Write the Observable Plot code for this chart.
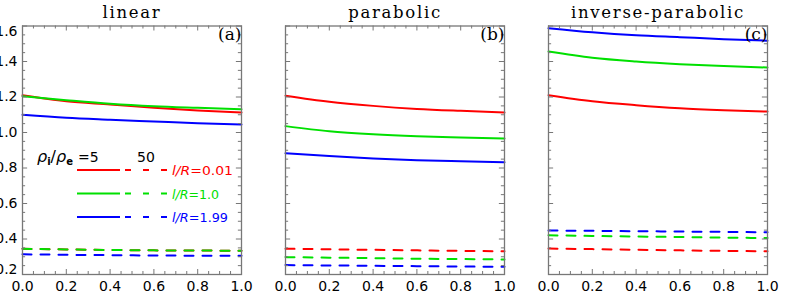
<!DOCTYPE html>
<html>
<head>
<meta charset="utf-8">
<script src="https://cdn.jsdelivr.net/npm/d3@7"></script>
<script src="https://cdn.jsdelivr.net/npm/@observablehq/plot@0.6"></script>
<style>
  html, body { margin: 0; padding: 0; background: #fff; }
  #chart { width: 789px; height: 299px; overflow: hidden; }
  #chart [aria-label="fx-axis tick label"] text { letter-spacing: 1.7px; }
</style>
</head>
<body>
<div id="chart"></div>
<script>
// ---- data ----
const profiles = ["linear", "parabolic", "inverse-parabolic"];
const panelTags = ["(a)", "(b)", "(c)"];
const xs = [0, 0.2, 0.4, 0.6, 0.8, 1.0];
const lRLabels = ["0.01", "1.0", "1.99"];
const rhoLabels = ["5", "50"];

// linear, rho=5 (solid)
const linSolid001 = [1.210, 1.176, 1.158, 1.139, 1.124, 1.113];
const linSolid10  = [1.204, 1.182, 1.162, 1.148, 1.139, 1.131];
const linSolid199 = [1.100, 1.083, 1.072, 1.062, 1.052, 1.045];
// linear, rho=50 (dashed)
const linDash001 = [0.345, 0.341, 0.338, 0.336, 0.335, 0.334];
const linDash10  = [0.345, 0.341, 0.338, 0.336, 0.335, 0.334];
const linDash199 = [0.314, 0.311, 0.309, 0.307, 0.306, 0.305];
// parabolic
const parSolid001 = [1.207, 1.173, 1.150, 1.133, 1.122, 1.113];
const parSolid10  = [1.036, 1.007, 0.990, 0.979, 0.972, 0.966];
const parSolid199 = [0.883, 0.867, 0.854, 0.844, 0.838, 0.833];
const parDash001 = [0.345, 0.342, 0.339, 0.336, 0.333, 0.331];
const parDash10  = [0.298, 0.295, 0.292, 0.289, 0.287, 0.285];
const parDash199 = [0.253, 0.251, 0.249, 0.247, 0.245, 0.243];
// inverse-parabolic
const invSolid001 = [1.210, 1.176, 1.154, 1.137, 1.126, 1.118];
const invSolid10  = [1.456, 1.421, 1.400, 1.385, 1.374, 1.366];
const invSolid199 = [1.588, 1.565, 1.548, 1.537, 1.526, 1.517];
const invDash001 = [0.346, 0.343, 0.339, 0.336, 0.333, 0.331];
const invDash10  = [0.421, 0.417, 0.414, 0.411, 0.408, 0.405];
const invDash199 = [0.448, 0.446, 0.444, 0.442, 0.440, 0.438];

const xMajor = [0, 0.2, 0.4, 0.6, 0.8, 1.0];
const xMinor = [0.05,0.1,0.15,0.25,0.3,0.35,0.45,0.5,0.55,0.65,0.7,0.75,0.85,0.9,0.95];
const yMajor = [0.2, 0.4, 0.6, 0.8, 1.0, 1.2, 1.4, 1.6];
const yMinor = [0.25,0.3,0.35,0.45,0.5,0.55,0.65,0.7,0.75,0.85,0.9,0.95,1.05,1.1,1.15,1.25,1.3,1.35,1.45,1.5,1.55];

const colors = {"0.01": "#ff0000", "1.0": "#00e000", "1.99": "#0000ff"};

// ---- build table ----
const seriesList = [
  ["linear", "0.01", "5", linSolid001], ["linear", "1.0", "5", linSolid10], ["linear", "1.99", "5", linSolid199],
  ["linear", "0.01", "50", linDash001], ["linear", "1.0", "50", linDash10], ["linear", "1.99", "50", linDash199],
  ["parabolic", "0.01", "5", parSolid001], ["parabolic", "1.0", "5", parSolid10], ["parabolic", "1.99", "5", parSolid199],
  ["parabolic", "0.01", "50", parDash001], ["parabolic", "1.0", "50", parDash10], ["parabolic", "1.99", "50", parDash199],
  ["inverse-parabolic", "0.01", "5", invSolid001], ["inverse-parabolic", "1.0", "5", invSolid10], ["inverse-parabolic", "1.99", "5", invSolid199],
  ["inverse-parabolic", "0.01", "50", invDash001], ["inverse-parabolic", "1.0", "50", invDash10], ["inverse-parabolic", "1.99", "50", invDash199]
];
const rows = [];
for (const [p, lr, rho, vals] of seriesList) {
  vals.forEach((v, i) => rows.push({profile: p, lR: lr, rho, key: p + "|" + lr + "|" + rho, x: xs[i], y: v}));
}
const solidRows = rows.filter(d => d.rho === "5");
const dashRows = rows.filter(d => d.rho === "50");
const tags = profiles.map((p, i) => ({profile: p, tag: panelTags[i]}));

const W = 789, H = 299;
const mL = 22, mR = 22, mT = 25.5, mB = 25;
const padInner = 0.168;
const frameW = (W - mL - mR) / (3 - padInner) * (1 - padInner);
const frameH = H - mT - mB;
const axisGray = "#777";

const plot = Plot.plot({
  width: W, height: H,
  marginLeft: mL, marginRight: mR, marginTop: mT, marginBottom: mB,
  style: {fontFamily: "'DejaVu Sans', sans-serif", fontSize: "14px", background: "white", overflow: "visible"},
  fx: {domain: profiles, paddingInner: padInner, paddingOuter: 0, label: null},
  x: {domain: [0, 1], axis: null},
  y: {domain: [0.2, 1.6], axis: null},
  marks: [
    Plot.axisFx({anchor: "top", tickSize: 0, tickPadding: 8, label: null,
      fontFamily: "'DejaVu Serif', serif", fontSize: 16.5, fill: "#000"}),
    Plot.line(dashRows, {fx: "profile", x: "x", y: "y", z: "key", stroke: d => colors[d.lR],
      strokeWidth: 2, strokeDasharray: "9,9", curve: "monotone-x"}),
    Plot.line(solidRows, {fx: "profile", x: "x", y: "y", z: "key", stroke: d => colors[d.lR],
      strokeWidth: 2, curve: "monotone-x"}),
    // inward ticks
    Plot.tickY(yMajor, {y: d => d, insetRight: frameW - 5, stroke: axisGray}),
    Plot.tickY(yMajor, {y: d => d, insetLeft: frameW - 5, stroke: axisGray}),
    Plot.tickY(yMinor, {y: d => d, insetRight: frameW - 3, stroke: axisGray}),
    Plot.tickY(yMinor, {y: d => d, insetLeft: frameW - 3, stroke: axisGray}),
    Plot.tickX(xMajor, {x: d => d, insetTop: frameH - 5, stroke: axisGray}),
    Plot.tickX(xMajor, {x: d => d, insetBottom: frameH - 5, stroke: axisGray}),
    Plot.tickX(xMinor, {x: d => d, insetTop: frameH - 3, stroke: axisGray}),
    Plot.tickX(xMinor, {x: d => d, insetBottom: frameH - 3, stroke: axisGray}),
    Plot.frame({stroke: axisGray, strokeWidth: 1.3}),
    Plot.axisX(xMajor, {label: null, tickSize: 0, tickPadding: 7, tickFormat: d3.format(".1f"), fill: "#000"}),
    Plot.axisY(yMajor.slice(1, -1), {label: null, tickSize: 0, tickPadding: 5, tickFormat: d3.format(".1f"), fill: "#000"}),
    Plot.axisY([1.6], {label: null, tickSize: 0, tickPadding: 5, tickFormat: d3.format(".1f"), fill: "#000", dy: 6}),
    Plot.axisY([0.2], {label: null, tickSize: 0, tickPadding: 5, tickFormat: d3.format(".1f"), fill: "#000", dy: -5}),
    Plot.text(tags, {fx: "profile", text: "tag", frameAnchor: "top-right", dx: 0, dy: 2,
      fontFamily: "'DejaVu Serif', serif", fontSize: 17, fill: "#000"})
  ]
});
document.getElementById("chart").appendChild(plot);

// ---- legend (inside panel a) ----
const svg = d3.select(plot);
const leg = svg.append("g");
const txtStyle = "font-family:'DejaVu Sans',sans-serif;font-size:13px;text-anchor:start;";
const head = leg.append("text").attr("x", 37).attr("y", 162).attr("fill", "#000").attr("style", txtStyle);
head.append("tspan").attr("style", "font-size:16px;font-style:italic").text("ρ");
head.append("tspan").attr("style", "font-size:10px;font-weight:bold").attr("dy", 3).text("i");
head.append("tspan").attr("style", "font-size:16px").attr("dy", -3).text("/");
head.append("tspan").attr("style", "font-size:16px;font-style:italic").text("ρ");
head.append("tspan").attr("style", "font-size:10px;font-weight:bold").attr("dy", 3).text("e");
head.append("tspan").attr("style", "font-size:14px").attr("dy", -3).attr("dx", 5).text("=" + rhoLabels[0]);
leg.append("text").attr("x", 137).attr("y", 162).attr("fill", "#000").attr("style", txtStyle + "font-size:14px").text(rhoLabels[1]);
const labelWidths = [61, 47, 56];
lRLabels.forEach((k, i) => {
  const yy = 170 + i * 23.5;
  const c = colors[k];
  leg.append("line").attr("x1", 77).attr("x2", 120).attr("y1", yy).attr("y2", yy).attr("stroke", c).attr("stroke-width", 2);
  leg.append("line").attr("x1", 125).attr("x2", 169).attr("y1", yy).attr("y2", yy).attr("stroke", c).attr("stroke-width", 2).attr("stroke-dasharray", "6,12");
  const t = leg.append("text").attr("x", 172).attr("y", yy + 5).attr("fill", c).attr("style", txtStyle)
    .attr("textLength", labelWidths[i]).attr("lengthAdjust", "spacingAndGlyphs");
  t.append("tspan").attr("style", "font-style:italic").text("l/R");
  t.append("tspan").text("=" + k);
});
</script>
</body>
</html>
